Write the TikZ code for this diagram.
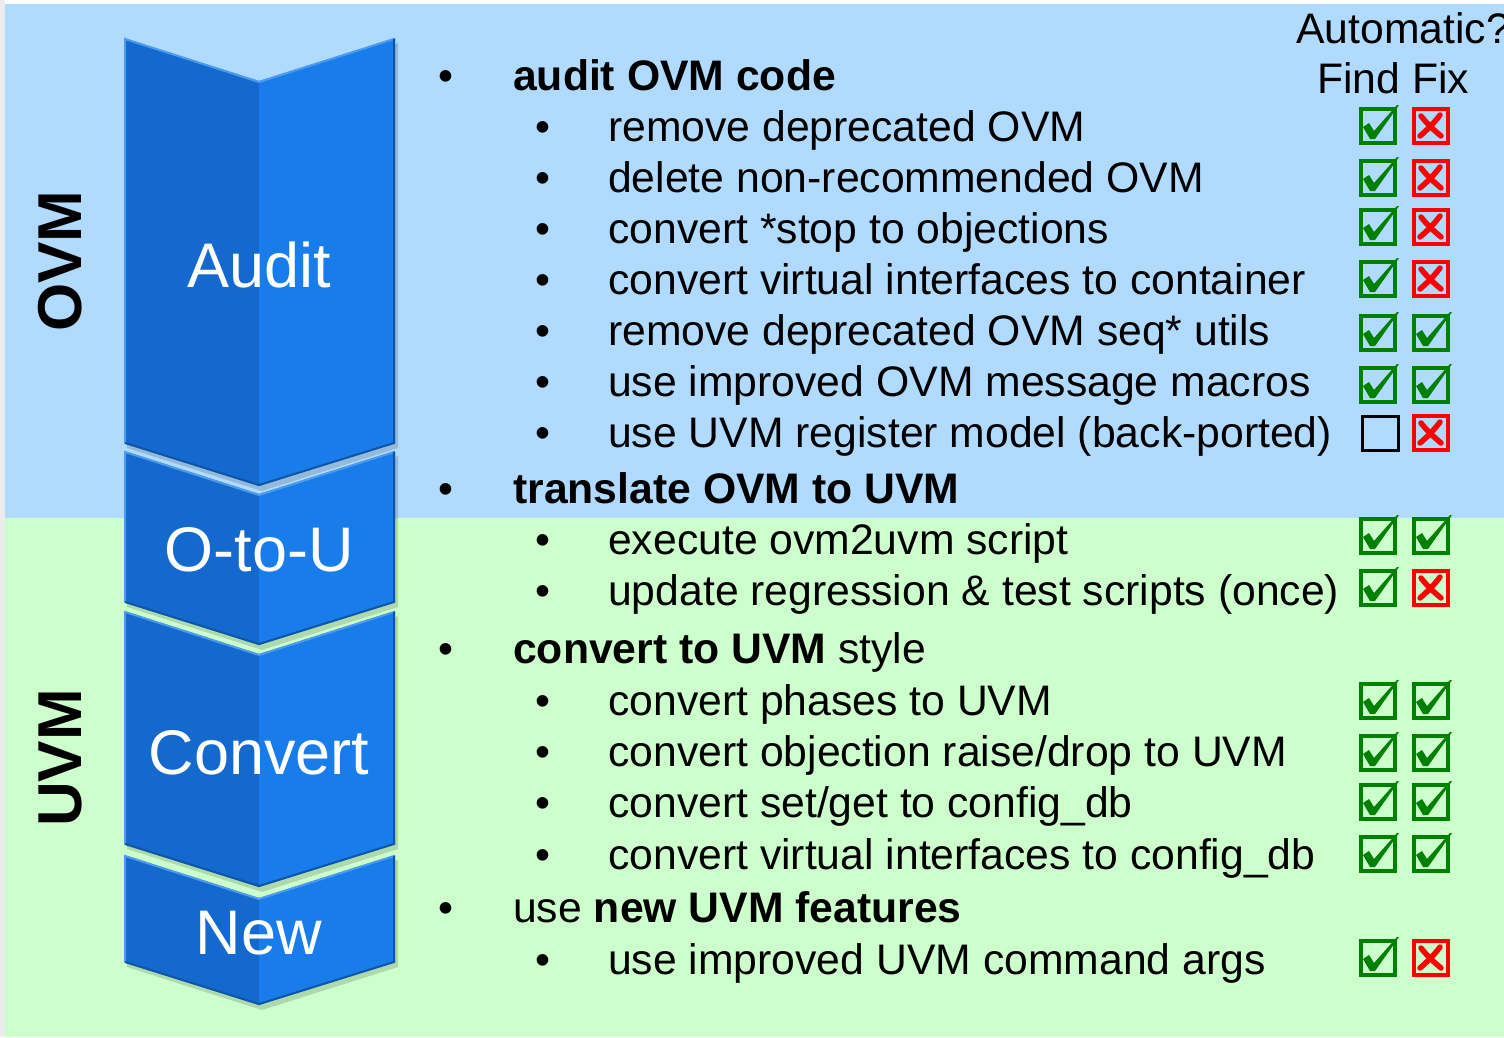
\documentclass[tikz,border=0pt]{standalone}
\usepackage{fontspec}
\setmainfont{Liberation Sans}
\definecolor{ovmblue}{HTML}{B0DAFE}
\definecolor{uvmgreen}{HTML}{CCFFCC}
\definecolor{chevdark}{HTML}{1369CE}
\definecolor{chevlight}{HTML}{187DEA}
\definecolor{chevedge}{HTML}{4C9BF0}
\definecolor{chevshade}{HTML}{0E55A8}
\definecolor{okgreen}{HTML}{008000}
\definecolor{nored}{HTML}{FF0000}
\tikzset{
  item/.style={anchor=base west, inner sep=0pt, font=\fontsize{42.7}{50}\selectfont},
  dot/.style={anchor=base, inner sep=0pt, font=\fontsize{42.7}{50}\selectfont},
  phase/.style={text=white, inner sep=0pt, font=\fontsize{63}{70}\selectfont},
  side/.style={rotate=90, inner sep=0pt, font=\fontsize{62}{70}\selectfont\bfseries},
  okbox/.pic={
    \draw[okgreen, line width=4pt] (-17,-17) rectangle (17,17);
    \fill[okgreen] (-15,1) -- (-9,-3) -- (-4,5) -- (19,-21) -- (21,-21) -- (-3,13) -- (-8,13) -- cycle;
  },
  nobox/.pic={
    \draw[nored, line width=4pt] (-17,-17) rectangle (17,17);
    \draw[nored, line width=5.5pt, line cap=round] (-10,-10) .. controls (-3,-1) and (3,4) .. (10,10);
    \draw[nored, line width=5.5pt, line cap=round] (9,-11) .. controls (3,-3) and (-4,4) .. (-11,10);
  },
  blankbox/.pic={
    \draw[line width=3pt] (-16,-17) rectangle (20,17);
  }
}
\begin{document}
\begin{tikzpicture}[x=1pt, y=-1pt]
  \useasboundingbox (0,0) rectangle (1504,1037);
  % fondo
  \fill[white] (0,0) rectangle (1504,1037);
  \fill[gray!15] (0,0) rectangle (5,1037);
  \fill[ovmblue] (5,4) rectangle (1504,518);
  \fill[uvmgreen] (5,518) rectangle (1504,1037);

  \node[side] (ovm) at (60,261) {OVM};
  \node[side] (uvm) at (60,758) {UVM};

  % Fases
  \foreach \top/\bot/\ty/\lbl [count=\i] in {
      38/443/265/Audit,
      451/602/550/O-to-U,
      611/844/753/Convert,
      855/962/933/New} {
    \fill[black, opacity=0.15] (127,\top+5) -- (262,\top+48) -- (398,\top+5) -- (398,\bot+5) -- (262,\bot+48) -- (127,\bot+5) -- cycle;
    \fill[chevdark] (124,\top) -- (259,\top+43) -- (259,\bot+43) -- (124,\bot) -- cycle;
    \fill[chevlight] (259,\top+43) -- (395,\top) -- (395,\bot) -- (259,\bot+43) -- cycle;
    \draw[chevedge, line width=2pt] (125,\bot) -- (125,\top+1) -- (259,\top+44) -- (394,\top+1);
    \draw[chevshade, line width=2pt] (394,\top+1) -- (394,\bot) -- (259,\bot+42) -- (125,\bot);
    \node[phase] (phase\i) at (259,\ty) {\lbl};
  }

  % Lista
  \foreach \y/\x/\val [count=\i] in {
      90/0/{\textbf{audit OVM code}},
      141/1/remove deprecated OVM,
      192/1/delete non-recommended OVM,
      243/1/convert *stop to objections,
      294/1/convert virtual interfaces to container,
      345/1/remove deprecated OVM seq* utils,
      396/1/use improved OVM message macros,
      447/1/use UVM register model (back-ported),
      503/0/{\textbf{translate OVM to UVM}},
      554/1/execute ovm2uvm script,
      605/1/update regression \& test scripts (once),
      663/0/{\textbf{convert to UVM} style},
      715/1/convert phases to UVM,
      766/1/{convert objection raise/drop to UVM},
      817/1/{convert set/get to config\_db},
      869/1/convert virtual interfaces to config\_db,
      922/0/{use \textbf{new UVM features}},
      974/1/use improved UVM command args} {
    \node[dot] (dot\i) at (446+97*\x, \y) {\textbullet};
    \node[item] (item\i) at (513+95*\x, \y) {\val};
  }

  % Automatic?
  \node[item] (auto) at (1296,43) {Automatic?};
  \node[item] (findfix) at (1317,93) {Find Fix};
  \foreach \y/\find/\fix [count=\i] in {
      126/okbox/nobox, 178/okbox/nobox, 227/okbox/nobox, 279/okbox/nobox,
      333/okbox/okbox, 385/okbox/okbox, 433/blankbox/nobox,
      536/okbox/okbox, 588/okbox/nobox,
      701/okbox/okbox, 753/okbox/okbox, 802/okbox/okbox, 854/okbox/okbox,
      958/okbox/nobox} {
    \pic (find\i) at (1378,\y) {\find};
    \pic (fix\i) at (1431,\y) {\fix};
  }
\end{tikzpicture}
\end{document}
